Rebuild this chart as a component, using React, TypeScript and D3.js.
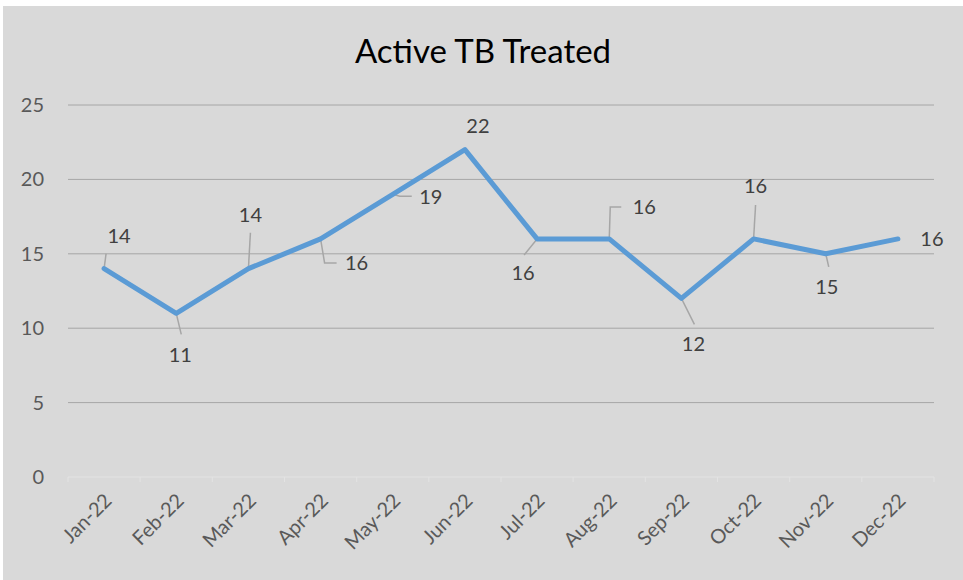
import React, { useRef, useEffect } from 'react';
import * as d3 from 'd3';

const months = ['Jan-22', 'Feb-22', 'Mar-22', 'Apr-22', 'May-22', 'Jun-22', 'Jul-22', 'Aug-22', 'Sep-22', 'Oct-22', 'Nov-22', 'Dec-22'];
const treated = [14, 11, 14, 16, 19, 22, 16, 16, 12, 16, 15, 16];
const yTicks = [0, 5, 10, 15, 20, 25];

// label placement relative to the point (text centre, leader line points)
const labelOffsets: { dx: number; dy: number; leader: number[][] }[] = [
    { dx: 15, dy: -33, leader: [[2, -15]] },
    { dx: 4, dy: 42, leader: [[5, 21]] },
    { dx: 2, dy: -54, leader: [[2, -36]] },
    { dx: 36, dy: 24, leader: [[4, 24], [16, 24]] },
    { dx: 38, dy: 3, leader: [[7, 2], [19, 2]] },
    { dx: 13, dy: -24, leader: [] },
    { dx: -14, dy: 34, leader: [[-13, 16]] },
    { dx: 35, dy: -32, leader: [[1, -32], [12, -32]] },
    { dx: 12, dy: 46, leader: [[13, 26]] },
    { dx: 2, dy: -53, leader: [[2, -34]] },
    { dx: 1, dy: 33, leader: [[3, 13]] },
    { dx: 34, dy: 0, leader: [] },
];

const App = () => {
    const ref = useRef<SVGSVGElement>(null);

    useEffect(() => {
        const width = 963, height = 580;
        const font = 'Lato, Carlito, Calibri, sans-serif';

        const svg = d3.select(ref.current);
        svg.selectAll('*').remove();

        svg.append('rect')
            .attr('x', 3).attr('y', 6)
            .attr('width', width - 3).attr('height', height - 6)
            .attr('fill', '#d9d9d9');

        svg.append('text')
            .attr('x', 483).attr('y', 51)
            .attr('dy', '0.35em')
            .attr('text-anchor', 'middle')
            .attr('font-family', font)
            .attr('font-size', 33)
            .attr('fill', '#000')
            .text('Active TB Treated');

        const x = d3.scalePoint<string>().domain(months).range([68, 934]).padding(0.5);
        const band = d3.scaleBand<string>().domain(months).range([68, 934]);
        const y = d3.scaleLinear().domain([0, 25]).range([477, 105]);

        // gridlines
        svg.append('g')
            .selectAll('line')
            .data(yTicks.filter(t => t > 0))
            .join('line')
            .attr('x1', 68).attr('x2', 934)
            .attr('y1', d => y(d)).attr('y2', d => y(d))
            .attr('stroke', '#a6a6a6')
            .attr('stroke-width', 1);

        // x axis baseline with band ticks
        svg.append('line')
            .attr('x1', 68).attr('x2', 934)
            .attr('y1', y(0)).attr('y2', y(0))
            .attr('stroke', '#e3e3e3')
            .attr('stroke-width', 1);
        svg.append('g')
            .selectAll('line')
            .data(months.map(m => band(m) as number).concat([934]))
            .join('line')
            .attr('x1', d => d).attr('x2', d => d)
            .attr('y1', y(0)).attr('y2', y(0) + 5)
            .attr('stroke', '#e3e3e3');

        // y tick labels
        svg.append('g')
            .selectAll('text')
            .data(yTicks)
            .join('text')
            .attr('x', 44)
            .attr('y', d => y(d))
            .attr('dy', '0.35em')
            .attr('text-anchor', 'end')
            .attr('font-family', font)
            .attr('font-size', 20)
            .attr('fill', '#595959')
            .text(d => d);

        // x tick labels
        svg.append('g')
            .selectAll('text')
            .data(months)
            .join('text')
            .attr('transform', d => `translate(${(x(d) as number) + 4},${y(0) + 20}) rotate(-45)`)
            .attr('dy', '0.35em')
            .attr('text-anchor', 'end')
            .attr('font-family', font)
            .attr('font-size', 20)
            .attr('fill', '#595959')
            .text(d => d);

        // leader lines
        const pts = months.map((m, i) => [x(m) as number, y(treated[i])]);
        svg.append('g')
            .selectAll('path')
            .data(pts.filter((p, i) => labelOffsets[i].leader.length > 0))
            .join('path')
            .attr('d', (p) => {
                const i = pts.indexOf(p);
                const l = labelOffsets[i].leader;
                return 'M' + p[0] + ',' + p[1] + l.map(o => 'L' + (p[0] + o[0]) + ',' + (p[1] + o[1])).join('');
            })
            .attr('fill', 'none')
            .attr('stroke', '#a6a6a6')
            .attr('stroke-width', 1.5);

        const line = d3.line<number>()
            .x((d, i) => x(months[i]) as number)
            .y(d => y(d));

        svg.append('path')
            .datum(treated)
            .attr('d', line)
            .attr('fill', 'none')
            .attr('stroke', '#5b9bd5')
            .attr('stroke-width', 5)
            .attr('stroke-linejoin', 'round')
            .attr('stroke-linecap', 'round');

        // data labels
        svg.append('g')
            .selectAll('text')
            .data(treated)
            .join('text')
            .attr('x', (d, i) => (x(months[i]) as number) + labelOffsets[i].dx)
            .attr('y', (d, i) => y(d) + labelOffsets[i].dy)
            .attr('dy', '0.35em')
            .attr('text-anchor', 'middle')
            .attr('font-family', font)
            .attr('font-size', 20)
            .attr('fill', '#404040')
            .text(d => d);
    }, []);

    return (
        <svg ref={ref} width={963} height={580} style={{ position: 'absolute', left: 0, top: 0 }} />
    );
};

export default App;
